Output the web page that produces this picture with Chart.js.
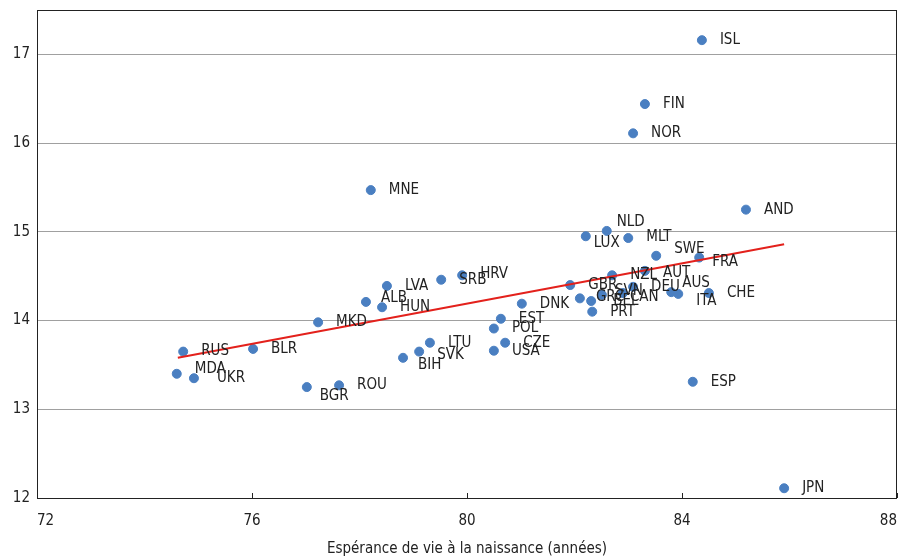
<!DOCTYPE html>
<html>
<head>
<meta charset="utf-8">
<script src="https://cdn.jsdelivr.net/npm/chart.js@4"></script>
<style>
  html, body { margin: 0; padding: 0; background: #fff; }
  #wrap { width: 904px; height: 556px; }
</style>
</head>
<body>
<div id="wrap"><canvas id="myChart" width="904" height="556"></canvas></div>
<script>
// country codes, x = life expectancy at birth, y = value
var countries = ['ISL','FIN','NOR','MNE','AND','NLD','LUX','MLT','SWE','FRA',
                 'HRV','SRB','LVA','GBR','NZL','AUT','DEU','AUS','ITA','CHE',
                 'GRC','BEL','SVN','CAN','PRT','DNK','EST','POL','CZE','USA',
                 'LTU','SVK','BIH','ALB','HUN','MKD','BLR','RUS','MDA','UKR',
                 'BGR','ROU','ESP','JPN'];
var lifeExp = [84.37, 83.31, 83.09, 78.21, 85.19, 82.60, 82.21, 83.00, 83.52, 84.32,
               79.91, 79.52, 78.51, 81.92, 82.70, 83.31, 83.09, 83.80, 83.93, 84.50,
               82.10, 82.31, 82.51, 82.90, 82.33, 81.02, 80.63, 80.50, 80.71, 80.50,
               79.31, 79.11, 78.81, 78.12, 78.42, 77.23, 76.02, 74.72, 74.60, 74.92,
               77.02, 77.62, 84.20, 85.90];
var values = [17.16, 16.44, 16.11, 15.47, 15.25, 15.01, 14.95, 14.93, 14.73, 14.71,
              14.51, 14.46, 14.39, 14.40, 14.51, 14.56, 14.38, 14.32, 14.30, 14.31,
              14.25, 14.22, 14.29, 14.31, 14.10, 14.19, 14.02, 13.91, 13.75, 13.66,
              13.75, 13.65, 13.58, 14.21, 14.15, 13.98, 13.68, 13.65, 13.40, 13.35,
              13.25, 13.27, 13.31, 12.11];
// fitted trend line end points
var trendX = [74.62, 85.90];
var trendY = [13.58, 14.86];

var xTicks = [72, 76, 80, 84, 88];
var yTicks = [12, 13, 14, 15, 16, 17];

// label nudges in px (default: right of the dot)
var nudge = {
  MDA: [0, -5], UKR: [5, 0], BGR: [-5, 9], BIH: [-3, 7], SVK: [0, 4],
  ALB: [-3, -4], LUX: [-10, 7], ITA: [0, 7], NLD: [-8, -9], SWE: [0, -7],
  FRA: [-5, 5], AUS: [-7, -9], MLT: [0, -1], SVN: [-5, -4], CAN: [-11, 4],
  GRC: [-2, -1], BEL: [4, 0], DEU: [0, 0], AUT: [0, 2], HRV: [0, -1]
};

var FONT = '"Liberation Sans Narrow", "DejaVu Sans Condensed", sans-serif';

var labelPlugin = {
  id: 'labels',
  afterDatasetsDraw: function (chart) {
    var ctx = chart.ctx;
    var meta = chart.getDatasetMeta(1);
    ctx.save();
    ctx.font = '15px ' + FONT;
    ctx.fillStyle = '#222';
    ctx.textBaseline = 'middle';
    ctx.textAlign = 'left';
    meta.data.forEach(function (pt, i) {
      var c = countries[i];
      var d = nudge[c] || [0, 0];
      ctx.fillText(c, pt.x + 18 + d[0], pt.y + d[1]);
    });
    ctx.restore();
  }
};

var framePlugin = {
  id: 'frame',
  afterDraw: function (chart) {
    var ctx = chart.ctx;
    var a = chart.chartArea;
    var xs = chart.scales.x;
    ctx.save();
    ctx.strokeStyle = '#222';
    ctx.lineWidth = 1;
    ctx.strokeRect(a.left + 0.5, a.top + 0.5, a.right - a.left - 1, a.bottom - a.top);
    ctx.beginPath();
    xTicks.forEach(function (v) {
      var px = Math.round(xs.getPixelForValue(v)) + 0.5;
      ctx.moveTo(px, a.bottom);
      ctx.lineTo(px, a.bottom - 5);
    });
    ctx.stroke();
    ctx.restore();
  }
};

var ctx = document.getElementById('myChart').getContext('2d');
var myChart = new Chart(ctx, {
  type: 'scatter',
  data: {
    datasets: [{
      type: 'line',
      data: trendX.map(function (x, i) { return { x: x, y: trendY[i] }; }),
      borderColor: '#e3211c',
      borderWidth: 2,
      pointRadius: 0,
      fill: false
    }, {
      data: lifeExp.map(function (x, i) { return { x: x, y: values[i] }; }),
      backgroundColor: '#4a7fc1',
      borderColor: '#4a7fc1',
      pointRadius: 4.5,
      pointHoverRadius: 4.5
    }]
  },
  options: {
    responsive: false,
    animation: false,
    layout: { padding: { left: 0, right: 7, top: 10, bottom: 0 } },
    plugins: { legend: { display: false }, tooltip: { enabled: false } },
    scales: {
      x: {
        type: 'linear',
        min: 72, max: 88,
        afterBuildTicks: function (s) { s.ticks = xTicks.map(function (v) { return { value: v }; }); },
        afterFit: function (s) { s.height = 58; s.paddingLeft = 0; s.paddingRight = 0; },
        grid: { display: false },
        border: { display: false },
        ticks: { color: '#222', font: { size: 15, family: FONT }, padding: 6, maxRotation: 0, align: 'inner' },
        title: {
          display: true,
          text: 'Espérance de vie à la naissance (années)',
          color: '#222',
          font: { size: 15, family: FONT },
          padding: { top: 6, bottom: -2 }
        }
      },
      y: {
        min: 12, max: 17.5,
        afterBuildTicks: function (s) { s.ticks = yTicks.map(function (v) { return { value: v }; }); },
        afterFit: function (s) { s.width = 37; s.paddingTop = 0; s.paddingBottom = 0; },
        grid: {
          color: function (c) { return c.tick && c.tick.value === 12 ? 'rgba(0,0,0,0)' : '#a0a0a0'; },
          lineWidth: 1,
          drawTicks: false
        },
        border: { display: false },
        ticks: { color: '#222', font: { size: 15, family: FONT }, padding: 7 }
      }
    }
  },
  plugins: [labelPlugin, framePlugin]
});
</script>
</body>
</html>
